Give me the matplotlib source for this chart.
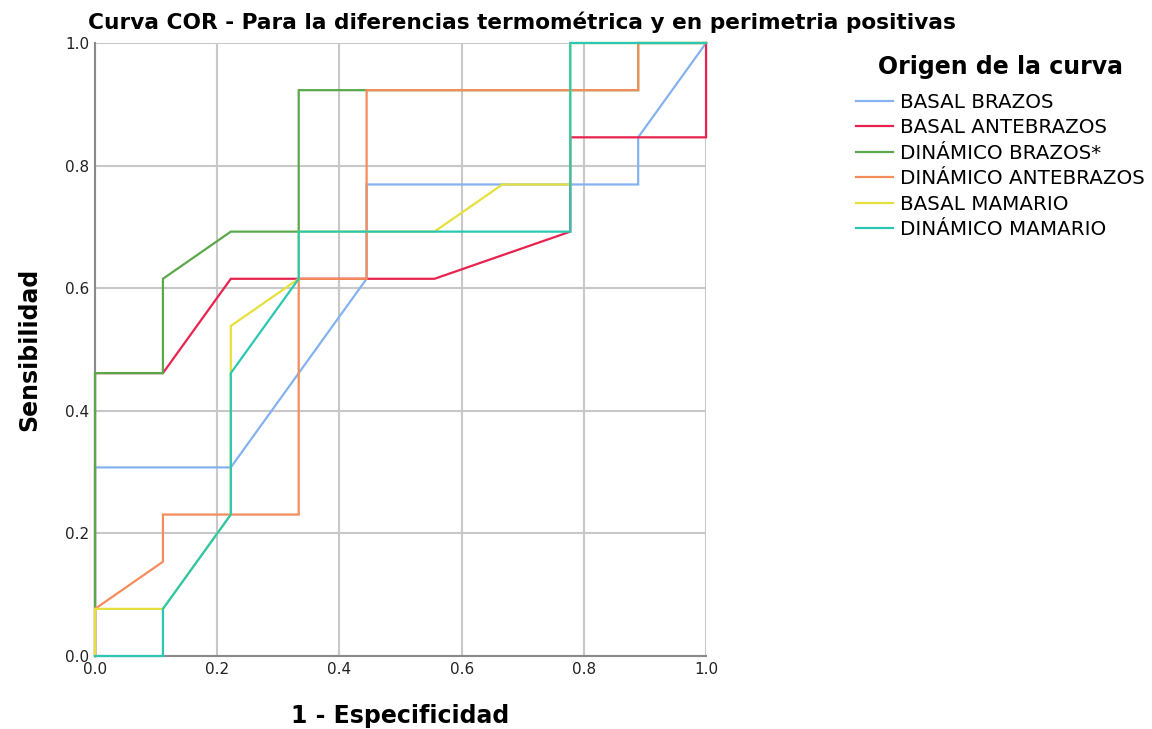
import matplotlib
matplotlib.use("Agg")
import matplotlib.pyplot as plt
from matplotlib.ticker import MultipleLocator

plt.rcParams['font.family'] = ['DejaVu Sans']

# ROC curves: x = 1 - specificity (ninths), y = sensitivity (thirteenths)
n_neg = 9
n_pos = 13

series_names = ["BASAL BRAZOS", "BASAL ANTEBRAZOS", "DINÁMICO BRAZOS*",
                "DINÁMICO ANTEBRAZOS", "BASAL MAMARIO", "DINÁMICO MAMARIO"]
series_colors = ["#85b2f0", "#e8234f", "#5ba84a", "#f58c5b", "#e6e03c", "#2cc7b2"]

# counts of false positives / true positives at each cut point
basal_brazos_fp = [0, 0, 2, 4, 4, 8, 8, 9]
basal_brazos_tp = [0, 4, 4, 8, 10, 10, 11, 13]

basal_antebrazos_fp = [0, 0, 1, 2, 5, 7, 7, 9, 9]
basal_antebrazos_tp = [0, 6, 6, 8, 8, 9, 11, 11, 13]

dinamico_brazos_fp = [0, 0, 1, 1, 2, 3, 3, 8, 8, 9]
dinamico_brazos_tp = [0, 6, 6, 8, 9, 9, 12, 12, 13, 13]

dinamico_antebrazos_fp = [0, 0, 1, 1, 3, 3, 4, 4, 8, 8, 9]
dinamico_antebrazos_tp = [0, 1, 2, 3, 3, 8, 8, 12, 12, 13, 13]

basal_mamario_fp = [0, 0, 1, 2, 2, 3, 3, 5, 6, 7, 7, 9]
basal_mamario_tp = [0, 1, 1, 3, 7, 8, 9, 9, 10, 10, 13, 13]

dinamico_mamario_fp = [0, 1, 1, 2, 2, 3, 3, 7, 7, 9]
dinamico_mamario_tp = [0, 0, 1, 3, 6, 8, 9, 9, 13, 13]

curves = [
    (basal_brazos_fp, basal_brazos_tp),
    (basal_antebrazos_fp, basal_antebrazos_tp),
    (dinamico_brazos_fp, dinamico_brazos_tp),
    (dinamico_antebrazos_fp, dinamico_antebrazos_tp),
    (basal_mamario_fp, basal_mamario_tp),
    (dinamico_mamario_fp, dinamico_mamario_tp),
]

fig = plt.figure(figsize=(11.52, 7.29), dpi=100)
ax = fig.add_axes([0.0825, 0.1001, 0.5304, 0.8409])

for (fp, tp), name, col in zip(curves, series_names, series_colors):
    xs = [v / n_neg for v in fp]
    ys = [v / n_pos for v in tp]
    ax.plot(xs, ys, color=col, lw=1.6, label=name, solid_joinstyle='miter',
            zorder=3, clip_on=False)

ax.set_xlim(0, 1)
ax.set_ylim(0, 1)
ax.xaxis.set_major_locator(MultipleLocator(0.2))
ax.yaxis.set_major_locator(MultipleLocator(0.2))
ax.xaxis.set_major_formatter(plt.FuncFormatter(lambda v, p: f"{v:.1f}"))
ax.yaxis.set_major_formatter(plt.FuncFormatter(lambda v, p: f"{v:.1f}"))
ax.grid(True, color="#c8c8c8", lw=1.5)
ax.set_axisbelow(True)
for s in ["top", "right"]:
    ax.spines[s].set_visible(False)
for s in ["left", "bottom"]:
    ax.spines[s].set_color("#8a8a8a")
    ax.spines[s].set_linewidth(1.5)
ax.tick_params(length=0, labelsize=11, pad=4, colors="#222222")

ax.set_xlabel("1 - Especificidad", fontsize=17, fontweight="bold", labelpad=20)
ax.set_ylabel("Sensibilidad", fontsize=17, fontweight="bold", labelpad=17)
ax.set_title("Curva COR - Para la diferencias termométrica y en perimetria positivas",
             fontsize=15.6, fontweight="bold", loc="left", x=-0.012, pad=10)

leg = ax.legend(loc="upper left", bbox_to_anchor=(0.743, 0.925),
                bbox_transform=fig.transFigure, frameon=False,
                title="Origen de la curva", fontsize=14.3,
                title_fontproperties={"size": 17, "weight": "bold"},
                handlelength=1.85, handletextpad=0.35, labelspacing=0.33,
                borderaxespad=0, borderpad=0)
leg._legend_box.sep = 10

fig.savefig("out.png", dpi=100)
